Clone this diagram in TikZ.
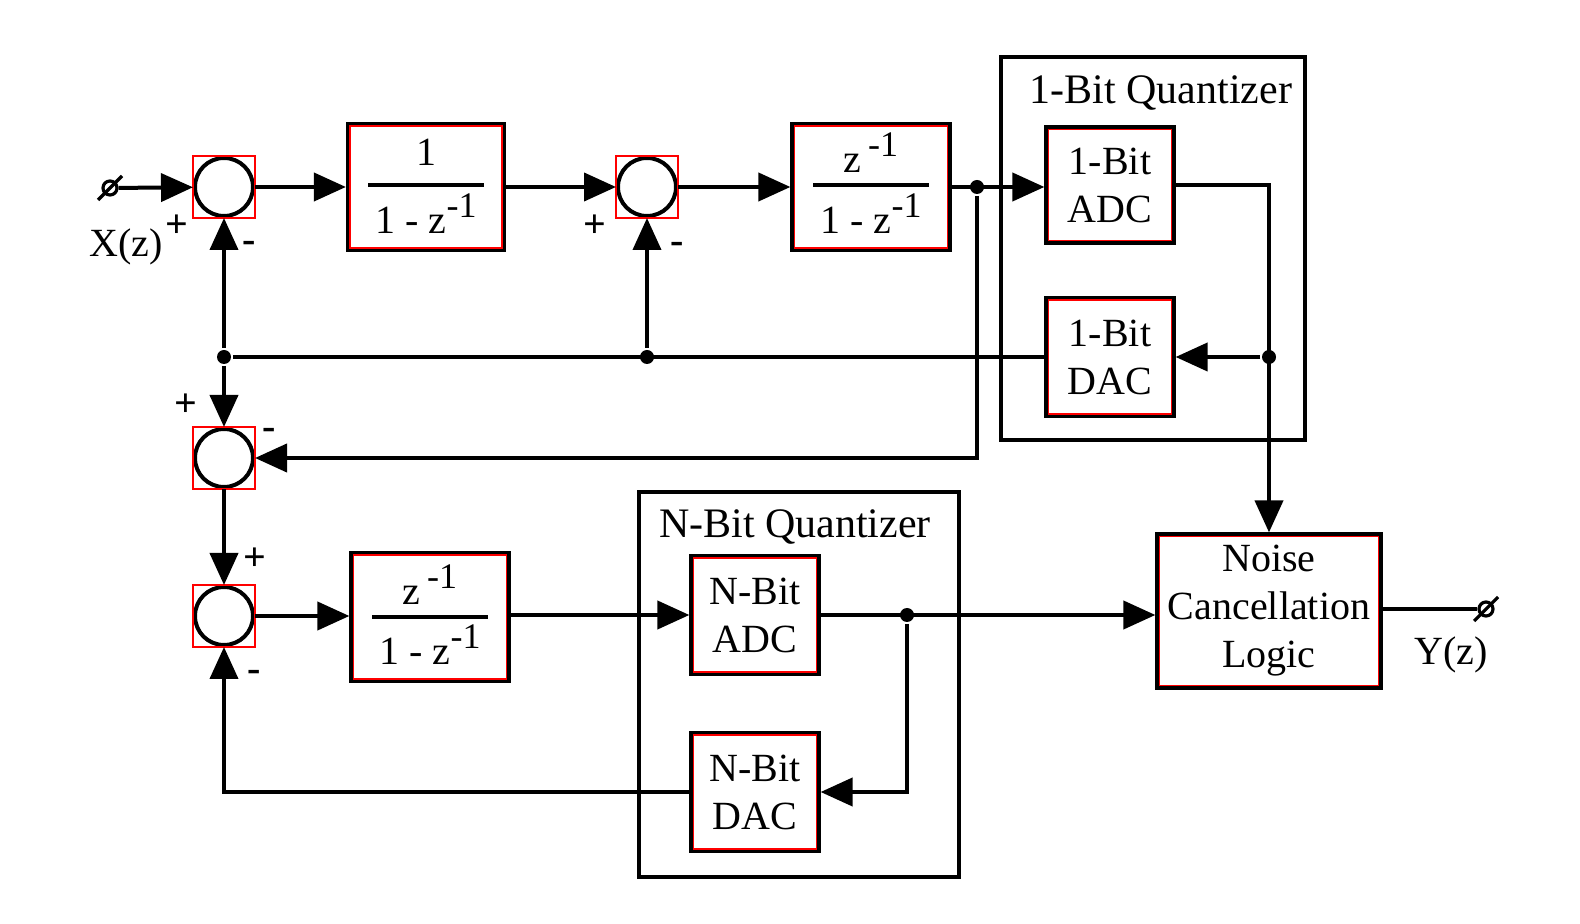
\documentclass[tikz,border=0pt]{standalone}
\usepackage{fontspec}
\setmainfont{Liberation Serif}
\usetikzlibrary{arrows.meta}
\newcommand\zexp{\raisebox{8pt}{\fontsize{18}{18}\selectfont -1}}
\begin{document}
\begin{tikzpicture}[x=0.5pt,y=-0.5pt, line width=2pt,
 every node/.style={font=\fontsize{20}{24}\selectfont},
 blk/.style={draw, line width=1.6pt, fill=white, align=center, inner sep=0pt,
   path picture={\draw[red,line width=3.4pt] (path picture bounding box.south west) rectangle (path picture bounding box.north east);}},
 sumj/.style={circle, draw, line width=2pt, minimum size=29pt, inner sep=0pt, fill=white},
 jdot/.style={circle, fill, minimum size=7pt, inner sep=0pt},
 term/.style={circle, draw, line width=1.6pt, minimum size=7pt, inner sep=0pt},
 grp/.style={draw, line width=1.8pt, inner sep=0pt},
 arr/.style={-{Triangle[length=16pt,width=14pt]}},
 sgn/.style={font=\fontsize{20}{20}\selectfont\bfseries},
 bar/.style={line width=2pt},
]
\useasboundingbox (0,0) rectangle (1580,924);
\fill[white] (0,0) rectangle (1580,924);

% groups
\node[grp, minimum width=152pt, minimum height=191.5pt] (q1) at (1153,248.5) {};
\node (q1t) at (1161,93) {\fontsize{21}{24}\selectfont 1-Bit Quantizer};
\node[grp, minimum width=160pt, minimum height=192.5pt] (q2) at (799,684.5) {};
\node (q2t) at (795,527) {\fontsize{21}{24}\selectfont N-Bit Quantizer};

% summing junctions
\node[sumj] (s1) at (224,187) {};
\node[sumj] (s2) at (647,187) {};
\node[sumj] (s3) at (224,458) {};
\node[sumj] (s4) at (224,616) {};
\foreach \s in {s1,s2,s3,s4}
  \draw[red, line width=0.8pt] ([shift={(-31,-31)}]\s.center) rectangle ([shift={(31,31)}]\s.center);

% blocks
\node[blk, minimum width=78.5pt, minimum height=63.5pt] (b1) at (426,187) {};
\node[blk, minimum width=79pt, minimum height=63.5pt] (b2) at (871,187) {};
\node[blk, minimum width=79pt, minimum height=64.5pt] (b3) at (430,617) {};
\node[blk, minimum width=64pt, minimum height=58pt] (adc1) at (1110,185) {1-Bit\\ADC};
\node[blk, minimum width=64pt, minimum height=59.5pt] (dac1) at (1110,357) {1-Bit\\DAC};
\node[blk, minimum width=64pt, minimum height=59.5pt] (nadc) at (755,615) {N-Bit\\ADC};
\node[blk, minimum width=64pt, minimum height=59.5pt] (ndac) at (755,792) {N-Bit\\DAC};
\node[blk, minimum width=112pt, minimum height=77pt] (noise) at (1269,611) {Noise\\Cancellation\\Logic};

% fractions
\node[anchor=base] (b1n) at ([shift={(0,-21)}]b1.center) {1};
\draw[bar] ([shift={(-58,-2)}]b1.center) -- ([shift={(58,-2)}]b1.center);
\node[anchor=base] (b1d) at ([shift={(0,47)}]b1.center) {1 - z\zexp};
\node[anchor=base] (b2n) at ([shift={(0,-14)}]b2.center) {z\,\zexp};
\draw[bar] ([shift={(-58,-2)}]b2.center) -- ([shift={(58,-2)}]b2.center);
\node[anchor=base] (b2d) at ([shift={(0,47)}]b2.center) {1 - z\zexp};
\node[anchor=base] (b3n) at ([shift={(0,-12)}]b3.center) {z\,\zexp};
\draw[bar] ([shift={(-58,0)}]b3.center) -- ([shift={(58,0)}]b3.center);
\node[anchor=base] (b3d) at ([shift={(0,48)}]b3.center) {1 - z\zexp};

% junction dots
\node[jdot] (j1) at (977,187) {};
\node[jdot] (j2) at (1269,357) {};
\node[jdot] (j4) at (224,357) {};
\node[jdot] (j5) at (647,357) {};
\node[jdot] (j3) at (907,615) {};

% terminals
\node[term] (xin) at (110,188) {};
\draw[line width=1.6pt] ([shift={(-12,12)}]xin.center) -- ([shift={(12,-12)}]xin.center);
\node[term] (yout) at (1486,609) {};
\draw[line width=1.6pt] ([shift={(-12,12)}]yout.center) -- ([shift={(12,-12)}]yout.center);
\node (xl) at (126,247) {X(z)};
\node (yl) at (1451,655) {Y(z)};

% signs
\node[sgn] (p1) at (177,226) {+};
\node[sgn] (m1) at (249,247) {-};
\node[sgn] (p2) at (595,226) {+};
\node[sgn] (m2) at (677,248) {-};
\node[sgn] (p3) at (186,405) {+};
\node[sgn] (m3) at (269,434) {-};
\node[sgn] (p4) at (255,559) {+};
\node[sgn] (m4) at (254,676) {-};

% connectors
\draw[arr] (xin) -- (s1);
\draw[arr] (s1) -- (b1);
\draw[arr] (b1) -- (s2);
\draw[arr] (s2) -- (b2);
\draw[arr] (b2.east) -- (b2.east -| adc1.west);
\draw[arr] (j1) |- (s3);
\draw[arr] (adc1.east) -| (noise.north);
\draw[arr] (j2) -- (dac1.east);
\draw (dac1.west) -- (j4);
\draw[arr] (j4) -- (s1);
\draw[arr] (j5) -- (s2);
\draw[arr] (j4) -- (s3);
\draw[arr] (s3) -- (s4);
\draw[arr] (s4) -- (b3.west |- s4);
\draw[arr] (b3.east |- nadc) -- (nadc);
\draw[arr] (nadc.east) -- (nadc.east -| noise.west);
\draw[arr] (j3) |- (ndac.east);
\draw[arr] (ndac.west) -| (s4);
\draw (yout -| noise.east) -- (yout);
\end{tikzpicture}
\end{document}
